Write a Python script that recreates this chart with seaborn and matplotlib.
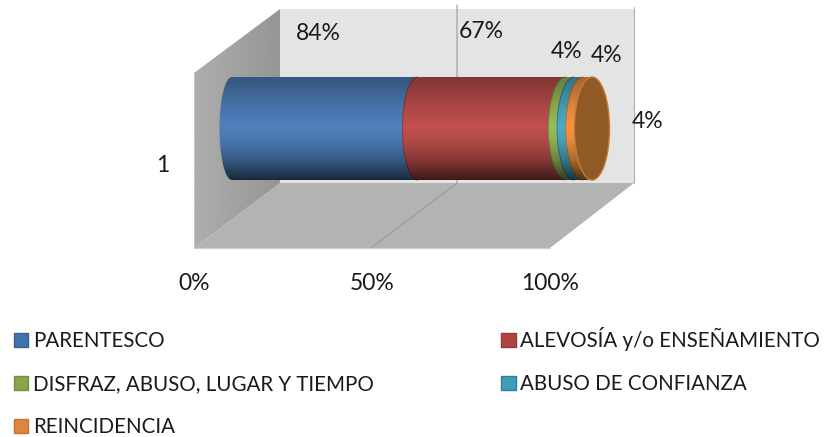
import numpy as np
import pandas as pd
import matplotlib.pyplot as plt
import seaborn as sns
from matplotlib.patches import Arc, Ellipse, Polygon

categories = ['PARENTESCO', 'ALEVOSÍA y/o ENSEÑAMIENTO', 'DISFRAZ, ABUSO, LUGAR Y TIEMPO',
              'ABUSO DE CONFIANZA', 'REINCIDENCIA']
values = [84, 67, 4, 4, 4]
group_label = '1'
tick_values = [0, 50, 100]
tick_labels = ['0%', '50%', '100%']

colors = ['#4f81bd', '#c0504d', '#9bbb59', '#4bacc6', '#f79646']
edges = ['#38618f', '#943a38', '#73913c', '#2f7f96', '#c8722c']
legend_colors = ['#4072ab', '#ad4442', '#87a64c', '#409db6', '#df853f']
label_pos = [(318, 34), (481, 32), (567, 51), (607, 55), (648, 122)]

sns.set_theme(style='white')
plt.rcParams['font.family'] = ['Lato', 'DejaVu Sans']

W, H = 825, 437
PX_PER_PCT = 3.6
CYL_X0 = 232
CYL_TOP, CYL_BOT = 77, 180


def px(x):
    # picture pixels to the axis unit (percent along the cylinder)
    return (x - CYL_X0) / PX_PER_PCT


def half_w(share):
    # end ellipses get wider towards the right because of the perspective
    return (12.5 + 5.0 * share / 100) / PX_PER_PCT


fig = plt.figure(figsize=(W / 100, H / 100), dpi=100)
ax = fig.add_axes([0, 0, 1, 1])

# box walls
back = Polygon([(px(280), 9), (px(634), 9), (px(634), 183), (px(280), 183)], fc='#e4e4e4', ec='none', zorder=0)
floor = Polygon([(px(194), 248), (px(280), 183), (px(634), 183), (px(550), 248)], fc='#b3b3b3', ec='none', zorder=0)
wall = Polygon([(px(194), 73), (px(280), 9), (px(280), 183), (px(194), 248)], fc='none', ec='none', zorder=1)
for p in (back, floor, wall):
    ax.add_patch(p)
wall_img = ax.imshow(np.linspace(0.68, 0.585, 64).reshape(1, -1), cmap='gray', vmin=0, vmax=1,
                     extent=(px(194), px(280), 248, 9), aspect='auto', zorder=1)
wall_img.set_clip_path(wall)

ax.plot([px(457), px(457), px(371)], [5, 183, 248], color='#9a9a9a', lw=0.8, zorder=2)
ax.plot([px(634), px(634)], [7, 183], color='#b0b0b0', lw=0.8, zorder=2)
ax.plot([px(194), px(550)], [248, 248], color='#cccccc', lw=0.8, zorder=2)
ax.plot([px(194), px(194)], [73, 248], color='#c4c4c4', lw=0.8, zorder=2)

# stacked cylinder
shares = 100 * np.array(values) / sum(values)
starts = np.concatenate([[0], np.cumsum(shares)[:-1]])
cyl_h = CYL_BOT - CYL_TOP
cyl_y = (CYL_TOP + CYL_BOT) / 2

df = pd.DataFrame({'categoria': categories, 'share': shares, 'start': starts, 'y': cyl_y})
for i, row in df.iterrows():
    sns.barplot(x=[row['share']], y=[row['y']], left=row['start'], orient='h', native_scale=True,
                width=cyl_h, color=colors[i], saturation=1, linewidth=0, label=row['categoria'],
                ax=ax, zorder=3 + i, legend=False)
    ell_w = 2 * half_w(row['start'])
    ax.add_patch(Ellipse((row['start'], cyl_y), ell_w, cyl_h, fc=colors[i], ec='none', zorder=3 + i))
    if i > 0:
        # only the visible left half of the seam
        ax.add_patch(Arc((row['start'], cyl_y), ell_w, cyl_h, theta1=90, theta2=270, ec=edges[i],
                         lw=0.7, zorder=3 + i))

# vertical shading over the whole cylinder
t = np.linspace(-np.pi / 2, np.pi / 2, 60)
left_x = -half_w(0) * np.cos(t)
right_x = 100 + half_w(100) * np.cos(t)
outline = np.vstack([np.column_stack([left_x, cyl_y + cyl_h / 2 * np.sin(t)]),
                     np.column_stack([right_x, cyl_y - cyl_h / 2 * np.sin(t)])])
sil = Polygon(outline, fc='none', ec='none', zorder=9)
ax.add_patch(sil)
rows = np.linspace(0, 1, 120)
alpha = np.interp(rows, [0, 0.08, 0.25, 0.47, 0.6, 0.8, 1], [0.32, 0.28, 0.14, 0.0, 0.06, 0.3, 0.68])
shade = np.zeros((120, 1, 4))
shade[:, 0, 3] = alpha
img = ax.imshow(shade, extent=(px(210), px(620), CYL_BOT, CYL_TOP), aspect='auto', zorder=9)
img.set_clip_path(sil)

# end cap
ax.add_patch(Ellipse((100, cyl_y), 2 * half_w(100), cyl_h, fc='#8f5a25', ec='#c47a35', lw=1, zorder=10))

# data labels
for v, (lx, ly) in zip(values, label_pos):
    ax.text(px(lx), ly, f'{v}%', fontsize=16.5, color='#1a1a1a', ha='center', va='center', zorder=11)

# axis text, ticks sit on the front edge of the floor
for tv, tl in zip(tick_values, tick_labels):
    ax.text(px(194 + 3.56 * tv), 284, tl, fontsize=16.5, color='#1a1a1a', ha='center', va='center')
ax.text(px(163), 165, group_label, fontsize=16.5, color='#1a1a1a', ha='center', va='center')

ax.set_xlim(px(0), px(W))
ax.set_ylim(H, 0)
ax.axis('off')

# legend fills column by column
order = [0, 2, 4, 1, 3]
handles = [ax.containers[i] for i in order]
leg = ax.legend(handles, [categories[i] for i in order], ncols=2, frameon=False, fontsize=14.8,
                loc='upper left', bbox_to_anchor=(14 / W, 1 - 327 / H), borderaxespad=0, borderpad=0,
                handlelength=0.7, handleheight=0.7, handletextpad=0.22, labelspacing=1.12,
                columnspacing=6.2, labelcolor='#1a1a1a')
for h, i in zip(leg.legend_handles, order):
    h.set_facecolor(legend_colors[i])
    h.set_edgecolor(edges[i])
    h.set_linewidth(1)

plt.savefig('out.png', dpi=100)
